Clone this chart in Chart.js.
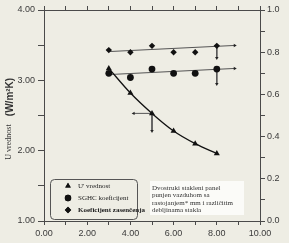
<!DOCTYPE html>
<html>
<head>
<meta charset="utf-8">
<script src="https://cdn.jsdelivr.net/npm/chart.js@4"></script>
<style>
  body { margin: 0; background: #eeede4; }
  #wrap { width: 289px; height: 243px; }
</style>
</head>
<body>
<div id="wrap"><canvas id="chart" width="289" height="243"></canvas></div>
<script>
// values
const spacings = [3, 4, 5, 6, 7, 8];
const uValues = [3.17, 2.82, 2.53, 2.28, 2.10, 1.96];
const sghcValues = [0.70, 0.68, 0.72, 0.70, 0.70, 0.72];
const shadingValues = [0.81, 0.80, 0.83, 0.80, 0.80, 0.83];

// fitted trend lines (x, y1) and the arrows drawn on the plot
const sghcTrend = [[3, 0.694], [8.83, 0.723]];
const shadingTrend = [[3, 0.803], [8.83, 0.832]];
const arrowShadingDown = [[8, 0.83], [8, 0.772]];
const arrowSghcDown = [[8, 0.72], [8, 0.649]];
const arrowUDown = [[5, 2.53], [5, 2.28]];
const arrowULeft = [[5, 2.53], [4.15, 2.53]];

const legendLabels = ['U\' vrednost', 'SGHC koeficijent', 'Koeficijent zasenčenja'];
const noteLines = ['Dvostruki stakleni panel', 'punjen vazduhom sa', 'rastojanjem* mm i različitim', 'debljinama stakla'];

const axisCol = '#4a4a4a';

function pts(xs, ys) { return xs.map((x, i) => ({ x: x, y: ys[i] })); }
function seg(a) { return a.map(p => ({ x: p[0], y: p[1] })); }

// segment with an arrow head at its end
function arrow(data, axis, rot) {
    return {
        type: 'line', data: seg(data), yAxisID: axis,
        borderColor: '#555', borderWidth: 1,
        pointStyle: 'triangle',
        pointRadius: [0, 2], pointRotation: rot,
        pointBackgroundColor: '#222', pointBorderWidth: 0,
        fill: false
    };
}

const bgPlugin = {
    id: 'bg',
    beforeDraw(chart) {
        const c = chart.ctx;
        c.save();
        c.fillStyle = '#eeede4';
        c.fillRect(0, 0, chart.width, chart.height);
        c.restore();
    }
};

const extrasPlugin = {
    id: 'extras',
    afterDraw(chart) {
        const c = chart.ctx;
        c.save();

        // left axis title
        c.fillStyle = '#333';
        c.textAlign = 'center';
        c.textBaseline = 'middle';
        c.translate(10, 97);
        c.rotate(-Math.PI / 2);
        c.font = 'bold 10px "Liberation Sans"';
        c.fillText('(W/m²K)', 0, 0);
        c.setTransform(1, 0, 0, 1, 0, 0);
        c.translate(9, 142);
        c.rotate(-Math.PI / 2);
        c.font = '8px "Liberation Serif"';
        c.fillText('U vrednost', 0, 0);
        c.setTransform(1, 0, 0, 1, 0, 0);

        // legend box
        c.strokeStyle = '#555';
        c.lineWidth = 1;
        c.beginPath();
        c.roundRect(50.5, 179.5, 87, 40, 4);
        c.stroke();
        const styles = ['triangle', 'circle', 'rectRot'];
        c.textAlign = 'left';
        legendLabels.forEach((t, i) => {
            const y = 186 + i * 12;
            c.fillStyle = '#111';
            Chart.helpers.drawPoint(c, { pointStyle: styles[i], radius: 3.2, borderWidth: 0 }, 68, y);
            c.fill();
            c.fillStyle = '#222';
            c.font = (i === 2 ? 'bold ' : '') + '7px "Liberation Serif"';
            c.fillText(t, 78, y);
        });

        // note box
        c.fillStyle = '#fbfbf8';
        c.fillRect(150, 181, 94, 34);
        c.fillStyle = '#333';
        c.font = '7px "Liberation Serif"';
        noteLines.forEach((t, i) => c.fillText(t, 152, 188 + i * 7.4));

        c.restore();
    }
};

const tickFont = { family: '"Liberation Sans"', size: 9 };

new Chart(document.getElementById('chart'), {
    type: 'line',
    data: {
        datasets: [
            {
                data: pts(spacings, uValues), yAxisID: 'y',
                borderColor: '#111', borderWidth: 1.3,
                cubicInterpolationMode: 'monotone',
                pointStyle: 'triangle', pointRadius: 3.5,
                pointBackgroundColor: '#111', pointBorderWidth: 0
            },
            {
                data: pts(spacings, sghcValues), yAxisID: 'y1', showLine: false,
                pointStyle: 'circle', pointRadius: 3.4,
                pointBackgroundColor: '#111', pointBorderWidth: 0
            },
            {
                data: pts(spacings, shadingValues), yAxisID: 'y1', showLine: false,
                pointStyle: 'rectRot', pointRadius: 3.2,
                pointBackgroundColor: '#111', pointBorderWidth: 0
            },
            arrow(sghcTrend, 'y1', 90),
            arrow(shadingTrend, 'y1', 90),
            arrow(arrowShadingDown, 'y1', 180),
            arrow(arrowSghcDown, 'y1', 180),
            arrow(arrowUDown, 'y', 180),
            arrow(arrowULeft, 'y', 270)
        ]
    },
    options: {
        responsive: false,
        animation: false,
        layout: { padding: 0 },
        plugins: { legend: { display: false }, tooltip: { enabled: false } },
        scales: {
            x: {
                type: 'linear', position: 'bottom', min: 0, max: 10,
                afterFit: s => { s.height = 22; },
                ticks: {
                    stepSize: 1, color: '#3a3a3a', font: tickFont, padding: 3, maxRotation: 0,
                    autoSkip: false,
                    callback: v => (v % 2 === 0 ? v.toFixed(2) : '')
                },
                grid: { drawOnChartArea: false, tickLength: 4, color: axisCol },
                border: { color: axisCol, width: 1 }
            },
            x2: {
                type: 'linear', position: 'top', min: 0, max: 10,
                afterFit: s => { s.height = 10; },
                ticks: { stepSize: 1, display: false },
                grid: { drawOnChartArea: false, tickLength: 4, color: axisCol },
                border: { color: axisCol, width: 1 }
            },
            y: {
                type: 'linear', position: 'left', min: 1, max: 4,
                afterFit: s => { s.width = 44; },
                ticks: {
                    stepSize: 0.5, color: '#3a3a3a', font: tickFont, padding: 3,
                    autoSkip: false,
                    callback: v => (v % 1 === 0 ? v.toFixed(2) : '')
                },
                grid: { drawOnChartArea: false, tickLength: 6, color: axisCol },
                border: { color: axisCol, width: 1 }
            },
            y1: {
                type: 'linear', position: 'right', min: 0, max: 1,
                afterFit: s => { s.width = 29; },
                ticks: {
                    stepSize: 0.1, color: '#3a3a3a', font: tickFont, padding: 2,
                    autoSkip: false,
                    callback: v => (Math.round(v * 10) % 2 === 0 ? v.toFixed(1) : '')
                },
                grid: { drawOnChartArea: false, tickLength: 5, color: axisCol },
                border: { color: axisCol, width: 1 }
            }
        }
    },
    plugins: [bgPlugin, extrasPlugin]
});
</script>
</body>
</html>
